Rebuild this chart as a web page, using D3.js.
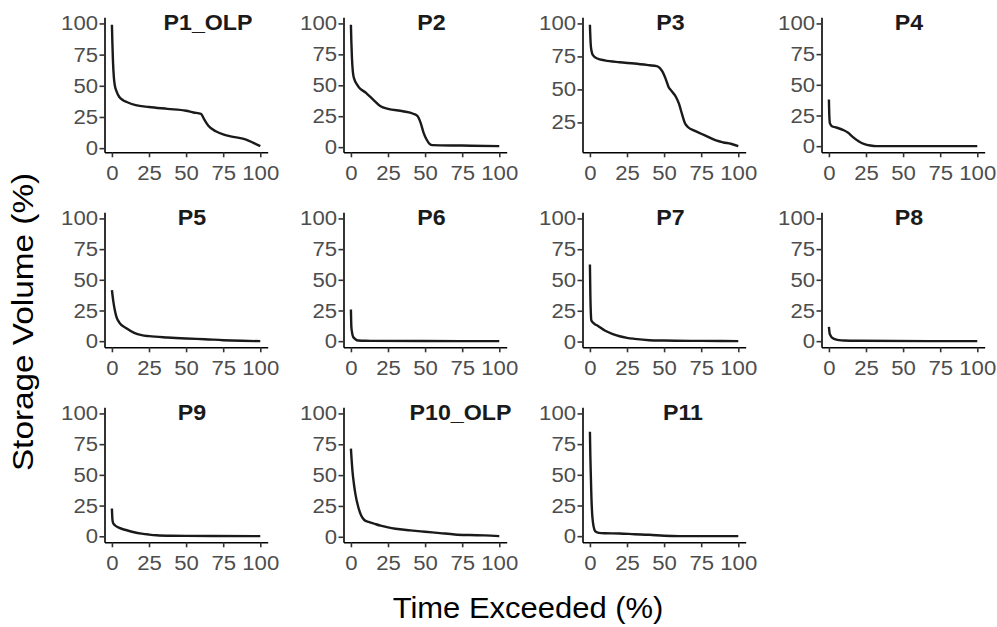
<!DOCTYPE html>
<html>
<head>
<meta charset="utf-8">
<script src="https://cdn.jsdelivr.net/npm/d3@7"></script>
<style>
  body { margin: 0; background: #fff; }
  text { font-family: "Liberation Sans", Arial, Helvetica, sans-serif; }
</style>
</head>
<body>
<svg id="chart" width="997" height="627"></svg>
<script>
// panel names, in facet order
const panelNames = ["P1_OLP", "P2", "P3", "P4", "P5", "P6", "P7", "P8", "P9", "P10_OLP", "P11"];

// duration curves: [time exceeded %, storage volume %]
const curveP1 = [[0,99],[0.3,85],[0.7,70],[1.3,57],[2,50],[3,46],[5,41],[7.5,38.5],[10,37],[16,34.5],[25,33],[37.5,31.5],[50,30],[55,28.6],[60,27.5],[62,23.5],[65,18],[70,13.5],[75,11],[80,9.5],[90,7],[95,4.5],[100,1.6]];
const curveP2 = [[0,99],[0.3,85],[0.7,72],[1.3,61],[2,56],[5,49],[10,44],[15,38.4],[20,33],[25,31],[35,29],[42,27],[45,25],[47,19.6],[49,11.6],[51,6.2],[53,2.7],[55,1.6],[75,1.3],[100,0.8]];
const curveP3 = [[0,99],[0.5,84.8],[1,79.7],[2,76],[5,73.4],[10,72],[20,70.6],[30,69.6],[40,68.3],[45,67.6],[47,66.3],[49,63.3],[51,58.2],[53,51.9],[55,48.8],[58,44.3],[60,39.2],[62,31.6],[64,24.5],[66,21.5],[70,19],[75,16.4],[80,13.9],[85,11.3],[90,9.8],[95,8.8],[100,7]];
const curveP4 = [[0,38],[0.3,24],[0.7,18.5],[2,16.3],[5,15.2],[10,13],[13,10.9],[16,7.6],[20,4],[24,1.6],[28,0.5],[32,0],[50,0],[75,0],[100,0]];
const curveP5 = [[0,41.6],[1,32],[2,25],[3,20],[5,15.2],[10,10.3],[15,6.8],[20,4.9],[25,4.1],[37.5,3],[50,2.2],[62.5,1.6],[75,0.8],[87.5,0.3],[100,0]];
const curveP6 = [[0,25.8],[0.3,11.7],[0.7,7.6],[1.5,3.5],[3,1.6],[5,0.5],[10,0.3],[50,0.1],[100,0]];
const curveP7 = [[0,62.5],[0.3,37.5],[0.7,21],[1,17],[3,14.4],[5,13],[10,9],[15,6.3],[20,4.3],[25,3],[30,2.2],[40,1.1],[50,0.8],[75,0.5],[100,0.3]];
const curveP8 = [[0,11.7],[0.5,6.3],[1,4.9],[2,3],[4,1.6],[7,0.8],[10,0.5],[20,0.3],[100,0]];
const curveP9 = [[0,22.6],[0.3,14.4],[0.7,11.1],[2,9],[5,6.8],[10,4.9],[15,3.3],[20,2.2],[25,1.4],[30,0.8],[40,0.4],[50,0.3],[100,0.1]];
const curveP10 = [[0,71.5],[0.5,62],[1,53.8],[2,43],[3,34.8],[5,23.9],[7,17],[9,13.6],[12,12],[15,10.9],[20,9],[25,7.6],[30,6.5],[40,5.2],[50,4.1],[60,3],[70,1.9],[80,1.4],[90,1.1],[100,0.5]];
const curveP11 = [[0,85],[0.3,64.7],[0.7,45.7],[1,32],[1.5,18.5],[2,11.7],[3,5.4],[4,3.5],[6,2.7],[10,2.4],[20,2.2],[30,1.6],[40,1.1],[50,0.3],[60,0],[100,0]];

const curves = [curveP1, curveP2, curveP3, curveP4, curveP5, curveP6, curveP7, curveP8, curveP9, curveP10, curveP11];

const xTicks = [0, 25, 50, 75, 100];
const yTicks = [0, 25, 50, 75, 100];
const xLimits = [0, 100];
const yUpper = 100;

// layout
const ncol = 4;
const left0 = 104.5, colStep = 239;
const top0 = 17.3, rowStep = 195;
const pw = 163.2, ph = 135;
// strip label centre, measured from panel left
const stripCenter = [103.5, 88, 88, 87.5, 87.5, 88, 88, 87.5, 87.5, 117, 100.5];
const sx = 1.08; // text in the source is a bit wide

const svg = d3.select("#chart");

panelNames.forEach(function(name, i) {
    let data = curves[i];
    let col = i % ncol, row = Math.floor(i / ncol);
    let g = svg.append("g")
        .attr("transform", "translate(" + (left0 + col * colStep) + "," + (top0 + row * rowStep) + ")");

    // ggplot-like 5% expansion
    let xr = xLimits[1] - xLimits[0];
    let x = d3.scaleLinear()
        .domain([xLimits[0] - 0.05 * xr, xLimits[1] + 0.05 * xr])
        .range([0, pw]);
    let ymin = d3.min(data, d => d[1]);
    let ymax = Math.max(d3.max(data, d => d[1]), yUpper);
    let yr = ymax - ymin;
    let y = d3.scaleLinear()
        .domain([ymin - 0.05 * yr, ymax + 0.05 * yr])
        .range([ph, 0]);

    let line = d3.line()
        .x(d => x(d[0]))
        .y(d => y(d[1]))
        .curve(d3.curveMonotoneX);

    g.append("path")
        .datum(data)
        .attr("fill", "none")
        .attr("stroke", "#1a1a1a")
        .attr("stroke-width", 2.4)
        .attr("stroke-linejoin", "round")
        .attr("d", line);

    let yt = yTicks.filter(t => t >= y.domain()[0] && t <= y.domain()[1]);
    let yAxis = g.append("g")
        .call(d3.axisLeft(y).tickValues(yt).tickSize(5).tickSizeOuter(0).tickPadding(1.5));
    let xAxis = g.append("g")
        .attr("transform", "translate(0," + ph + ")")
        .call(d3.axisBottom(x).tickValues(xTicks).tickSize(5).tickSizeOuter(0).tickPadding(8.5));

    [xAxis, yAxis].forEach(function(ax) {
        ax.select(".domain").attr("stroke", "#000").attr("stroke-width", 1.6);
        ax.selectAll(".tick line").attr("stroke", "#333").attr("stroke-width", 1.6);
        ax.selectAll(".tick text")
            .attr("fill", "#4d4d4d")
            .style("font-size", "20.5px")
            .style("font-family", "'Liberation Sans', Arial, sans-serif");
    });
    // widen tick labels around their anchor
    yAxis.selectAll(".tick text").each(function() {
        let t = d3.select(this), tx = +t.attr("x");
        t.attr("x", tx / sx).attr("transform", "scale(" + sx + ",1)");
    });
    xAxis.selectAll(".tick text").attr("transform", "scale(" + sx + ",1)");

    g.append("text")
        .attr("transform", "translate(" + stripCenter[i] + ",12.5) scale(" + sx + ",1)")
        .attr("text-anchor", "middle")
        .style("font-size", "21.5px")
        .style("font-weight", "bold")
        .attr("fill", "#1a1a1a")
        .text(name);
});

// axis titles
svg.append("text")
    .attr("transform", "translate(528,618) scale(1.05,1)")
    .attr("text-anchor", "middle")
    .style("font-size", "29.5px")
    .attr("fill", "#000")
    .text("Time Exceeded (%)");

svg.append("text")
    .attr("transform", "translate(33,322) rotate(-90) scale(1.13,1)")
    .attr("text-anchor", "middle")
    .style("font-size", "29.5px")
    .attr("fill", "#000")
    .text("Storage Volume (%)");
</script>
</body>
</html>
